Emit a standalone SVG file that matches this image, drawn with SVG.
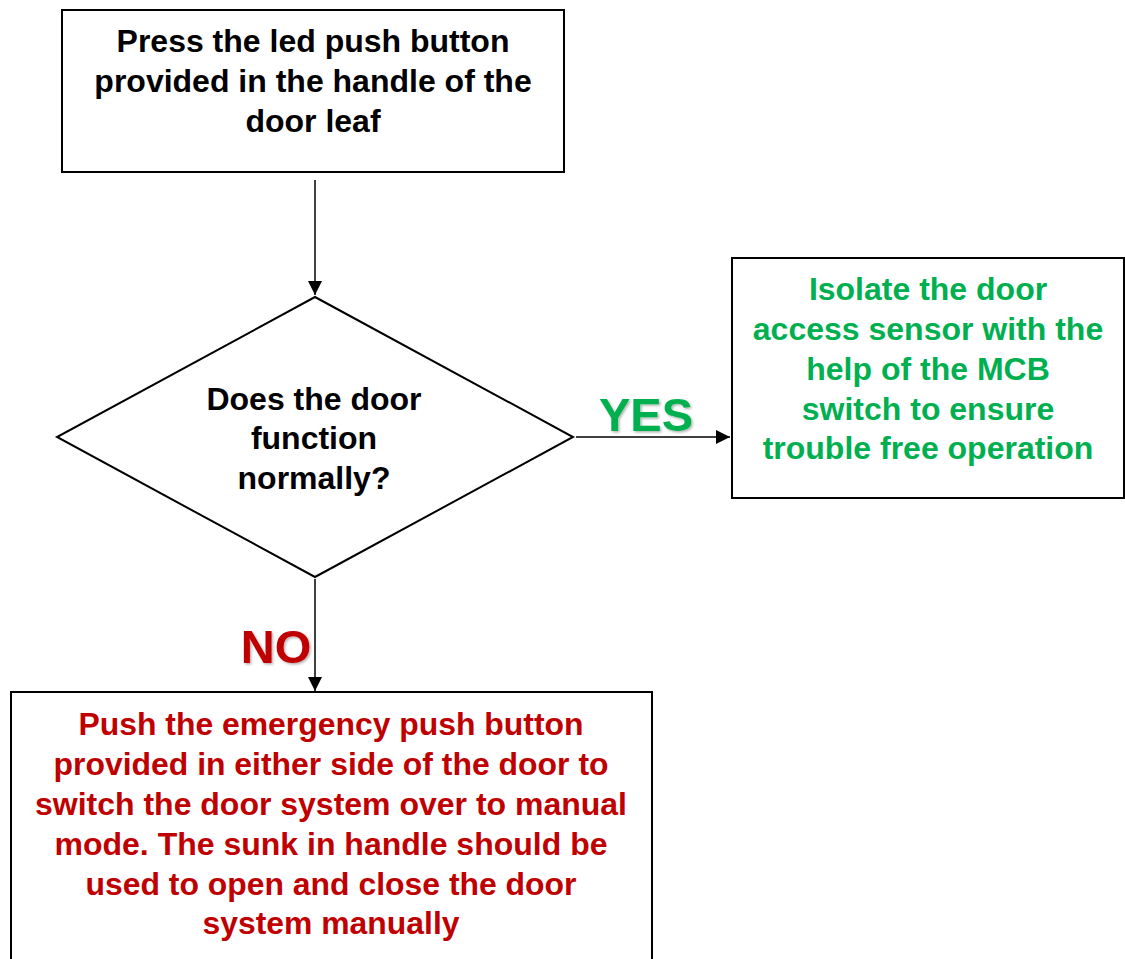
<svg xmlns="http://www.w3.org/2000/svg" width="1125" height="959" viewBox="0 0 1125 959">
<style>
.box{fill:#fff;stroke:#000;stroke-width:2}
.t{font-family:"Liberation Sans",Arial,sans-serif;font-weight:bold;font-size:32px;text-anchor:middle}
.blk{fill:#000}
.grn{fill:#00B050}
.red{fill:#C00000}
.lbl{font-family:"Liberation Sans",Arial,sans-serif;font-weight:bold;font-size:47px;text-anchor:middle}
.conn{stroke:#000;stroke-width:1.5;fill:none}
</style>
<defs>
<marker id="arrL" viewBox="0 0 10 10" refX="10" refY="5" markerWidth="14" markerHeight="14" markerUnits="userSpaceOnUse" orient="auto">
<path d="M0,0 L10,5 L0,10 z" fill="#000"/>
</marker>
<filter id="sh" x="-10%" y="-10%" width="130%" height="130%">
<feDropShadow dx="1.5" dy="1.5" stdDeviation="1" flood-color="#000" flood-opacity="0.3"/>
</filter>
</defs>
<g id="connectors">
<line class="conn" x1="315" y1="180" x2="315" y2="295" marker-end="url(#arrL)"/>
<line class="conn" x1="576" y1="437" x2="730" y2="437" marker-end="url(#arrL)"/>
<line class="conn" x1="315" y1="579" x2="315" y2="691" marker-end="url(#arrL)"/>
<text class="lbl grn" x="646" y="431" filter="url(#sh)">YES</text>
<text class="lbl red" x="276" y="663" filter="url(#sh)">NO</text>
</g>
<g id="start">
<rect class="box" x="62" y="10" width="502" height="162"/>
<text class="t blk" x="313" y="52">Press the led push button</text>
<text class="t blk" x="313" y="92">provided in the handle of the</text>
<text class="t blk" x="313" y="132">door leaf</text>
</g>
<g id="decision">
<polygon class="box" points="315,297 573,437 315,577 57,437"/>
<text class="t blk" x="314" y="410">Does the door</text>
<text class="t blk" x="314" y="449">function</text>
<text class="t blk" x="314" y="489">normally?</text>
</g>
<g id="yes-box">
<rect class="box" x="732" y="258" width="392" height="240"/>
<text class="t grn" x="928" y="300">Isolate the door</text>
<text class="t grn" x="928" y="340">access sensor with the</text>
<text class="t grn" x="928" y="380">help of the MCB</text>
<text class="t grn" x="928" y="420">switch to ensure</text>
<text class="t grn" x="928" y="459">trouble free operation</text>
</g>
<g id="no-box">
<rect class="box" x="11" y="692" width="641" height="280"/>
<text class="t red" x="331" y="735" textLength="505" lengthAdjust="spacingAndGlyphs">Push the emergency push button</text>
<text class="t red" x="331" y="775" textLength="555" lengthAdjust="spacingAndGlyphs">provided in either side of the door to</text>
<text class="t red" x="331" y="815" textLength="592" lengthAdjust="spacingAndGlyphs">switch the door system over to manual</text>
<text class="t red" x="331" y="855" textLength="553" lengthAdjust="spacingAndGlyphs">mode. The sunk in handle should be</text>
<text class="t red" x="331" y="895" textLength="491" lengthAdjust="spacingAndGlyphs">used to open and close the door</text>
<text class="t red" x="331" y="934" textLength="257" lengthAdjust="spacingAndGlyphs">system manually</text>
</g>
</svg>
